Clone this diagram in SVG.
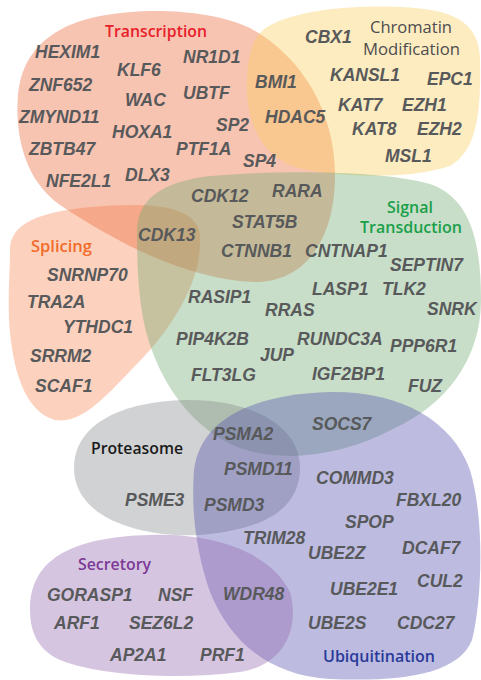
<svg xmlns="http://www.w3.org/2000/svg" width="481" height="680" viewBox="0 0 481 680">
<style>
.blob{fill-opacity:0.38}
.g{font-family:"Liberation Sans",Arial,sans-serif;font-weight:bold;font-style:italic;font-size:17.5px;fill:#58595B}
.lab{font-family:"Open Sans","Noto Sans",sans-serif;font-weight:600;font-size:16px}
</style>
<rect width="481" height="680" fill="#FFFFFF"/>
<g id="sets">
<path id="splicing" class="blob" fill="#F78954" d="M10,250 C10,223 40,212 90,207 C150,202 197,205 200,235 C203,280 172,330 133,368 C103,400 80,424 55,420 C25,412 12,370 9,320 C8,290 10,270 10,250 Z"/>
<path id="transcription" class="blob" fill="#ED6434" d="M60,30 C100,6 200,4 250,28 C300,55 335,110 335,175 C335,240 305,282 255,282 C190,280 120,245 60,205 C22,178 15,130 18,95 C21,62 38,42 60,30 Z"/>
<path id="chromatin" class="blob" fill="#FACD59" d="M263,30 C290,10 350,5 400,7 C450,9 480,20 480,60 C481,110 478,150 450,166 C410,180 330,178 292,166 C256,152 245,112 247,80 C248,55 252,40 263,30 Z"/>
<path id="signal" class="blob" fill="#6EA86E" d="M137,232 C137,200 160,182 210,176 C280,170 380,170 430,184 C470,198 481,240 481,300 C481,360 445,405 395,428 C345,455 285,464 240,448 C192,430 160,382 147,335 C138,303 137,262 137,232 Z"/>
<path id="proteasome" class="blob" fill="#86898B" d="M74,468 C74,420 130,400 190,400 C250,400 300,425 300,468 C300,510 262,530 200,535 C140,538 74,518 74,468 Z"/>
<path id="ubiquitination" class="blob" fill="#514FAD" d="M194,470 C200,420 252,394 330,392 C400,391 452,420 470,470 C485,520 482,600 472,640 C458,675 400,682 330,679 C270,676 230,642 210,592 C196,552 191,510 194,470 Z"/>
<path id="secretory" class="blob" fill="#9367AD" d="M30,610 C30,560 70,537 150,535 C220,533 272,555 290,592 C300,627 285,665 240,672 C180,680 100,676 60,660 C38,650 30,632 30,610 Z"/>
</g>
<g id="labels">
<text class="lab" x="105" y="37" fill="#E8202A" textLength="102" lengthAdjust="spacingAndGlyphs">Transcription</text>
<text class="lab" x="370" y="33" fill="#4D4D4F" style="font-weight:500" textLength="82" lengthAdjust="spacingAndGlyphs">Chromatin</text>
<text class="lab" x="363" y="55" fill="#4D4D4F" style="font-weight:500" textLength="97" lengthAdjust="spacingAndGlyphs">Modification</text>
<text class="lab" x="387" y="213" fill="#1AA04A" textLength="46" lengthAdjust="spacingAndGlyphs">Signal</text>
<text class="lab" x="360" y="233" fill="#1AA04A" textLength="102" lengthAdjust="spacingAndGlyphs">Transduction</text>
<text class="lab" x="31" y="252" fill="#F26B2A" textLength="61" lengthAdjust="spacingAndGlyphs">Splicing</text>
<text class="lab" x="91" y="454" fill="#1A1A1A" textLength="92" lengthAdjust="spacingAndGlyphs">Proteasome</text>
<text class="lab" x="78" y="570" fill="#7B3A96" textLength="73" lengthAdjust="spacingAndGlyphs">Secretory</text>
<text class="lab" x="323" y="662" fill="#2A3A9A" textLength="112" lengthAdjust="spacingAndGlyphs">Ubiquitination</text>
</g>
<g id="genes">
<text class="g" x="35" y="58">HEXIM1</text>
<text class="g" x="117" y="76">KLF6</text>
<text class="g" x="183" y="63">NR1D1</text>
<text class="g" x="29" y="91">ZNF652</text>
<text class="g" x="125" y="106">WAC</text>
<text class="g" x="183" y="99">UBTF</text>
<text class="g" x="19" y="123">ZMYND11</text>
<text class="g" x="112" y="138">HOXA1</text>
<text class="g" x="216" y="131">SP2</text>
<text class="g" x="29" y="155">ZBTB47</text>
<text class="g" x="176" y="155">PTF1A</text>
<text class="g" x="46" y="187">NFE2L1</text>
<text class="g" x="125" y="181">DLX3</text>
<text class="g" x="243" y="167">SP4</text>
<text class="g" x="191" y="202">CDK12</text>
<text class="g" x="272" y="197">RARA</text>
<text class="g" x="232" y="228">STAT5B</text>
<text class="g" x="138" y="241">CDK13</text>
<text class="g" x="221" y="257">CTNNB1</text>
<text class="g" x="305" y="43">CBX1</text>
<text class="g" x="255" y="88">BMI1</text>
<text class="g" x="330" y="81">KANSL1</text>
<text class="g" x="427" y="85">EPC1</text>
<text class="g" x="265" y="123">HDAC5</text>
<text class="g" x="338" y="111">KAT7</text>
<text class="g" x="402" y="111">EZH1</text>
<text class="g" x="352" y="135">KAT8</text>
<text class="g" x="417" y="135">EZH2</text>
<text class="g" x="385" y="162">MSL1</text>
<text class="g" x="47" y="281">SNRNP70</text>
<text class="g" x="27" y="308">TRA2A</text>
<text class="g" x="63" y="333">YTHDC1</text>
<text class="g" x="30" y="362">SRRM2</text>
<text class="g" x="35" y="392">SCAF1</text>
<text class="g" x="188" y="303">RASIP1</text>
<text class="g" x="176" y="345">PIP4K2B</text>
<text class="g" x="191" y="381">FLT3LG</text>
<text class="g" x="305" y="257">CNTNAP1</text>
<text class="g" x="390" y="271">SEPTIN7</text>
<text class="g" x="312" y="295">LASP1</text>
<text class="g" x="382" y="295">TLK2</text>
<text class="g" x="265" y="316">RRAS</text>
<text class="g" x="427" y="315">SNRK</text>
<text class="g" x="297" y="345">RUNDC3A</text>
<text class="g" x="390" y="352">PPP6R1</text>
<text class="g" x="260" y="361">JUP</text>
<text class="g" x="312" y="380">IGF2BP1</text>
<text class="g" x="408" y="392">FUZ</text>
<text class="g" x="312" y="430">SOCS7</text>
<text class="g" x="213" y="440">PSMA2</text>
<text class="g" x="224" y="475">PSMD11</text>
<text class="g" x="125" y="506">PSME3</text>
<text class="g" x="204" y="511">PSMD3</text>
<text class="g" x="47" y="601">GORASP1</text>
<text class="g" x="158" y="601">NSF</text>
<text class="g" x="54" y="629">ARF1</text>
<text class="g" x="129" y="629">SEZ6L2</text>
<text class="g" x="110" y="661">AP2A1</text>
<text class="g" x="200" y="661">PRF1</text>
<text class="g" x="223" y="600">WDR48</text>
<text class="g" x="243" y="544">TRIM28</text>
<text class="g" x="316" y="484">COMMD3</text>
<text class="g" x="396" y="506">FBXL20</text>
<text class="g" x="345" y="528">SPOP</text>
<text class="g" x="308" y="559">UBE2Z</text>
<text class="g" x="402" y="554">DCAF7</text>
<text class="g" x="330" y="595">UBE2E1</text>
<text class="g" x="417" y="587">CUL2</text>
<text class="g" x="308" y="629">UBE2S</text>
<text class="g" x="397" y="629">CDC27</text>
</g>
</svg>
